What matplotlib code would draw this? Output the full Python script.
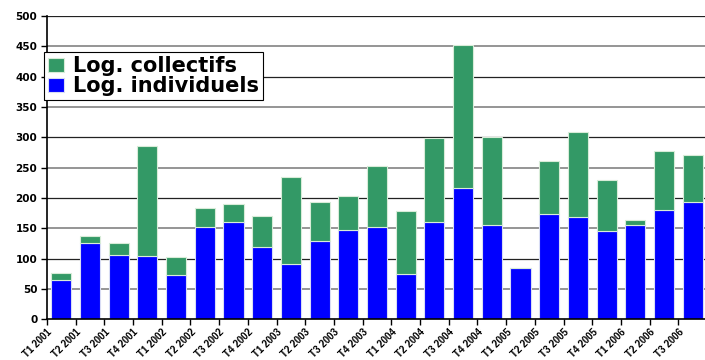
import numpy as np
import matplotlib.pyplot as plt

# Trimestres
trimestres = ["T1 2001", "T2 2001", "T3 2001", "T4 2001",
              "T1 2002", "T2 2002", "T3 2002", "T4 2002",
              "T1 2003", "T2 2003", "T3 2003", "T4 2003",
              "T1 2004", "T2 2004", "T3 2004", "T4 2004",
              "T1 2005", "T2 2005", "T3 2005", "T4 2005",
              "T1 2006", "T2 2006", "T3 2006"]

# Logements individuels et collectifs
individuels = [65, 125, 106, 105, 73, 152, 160, 119, 91, 129, 148, 152,
               74, 160, 216, 155, 84, 173, 168, 145, 155, 180, 193]
collectifs = [12, 12, 19, 181, 30, 32, 30, 52, 143, 64, 55, 101,
              105, 139, 237, 145, 0, 88, 141, 85, 9, 97, 78]

vert = "#339966"
bleu = "#0000FF"

fig = plt.figure(figsize=(7.05, 3.6), dpi=100)
ax = fig.add_axes([47/705, 40.7/360, 1 - 47/705, 303.3/360])

x = np.arange(len(trimestres))
ax.bar(x, individuels, width=0.7, color=bleu, edgecolor="#d8dcf4",
       linewidth=0.8, label="Log. individuels", zorder=3)
ax.bar(x, collectifs, width=0.7, bottom=individuels, color=vert,
       edgecolor="#d8ecd8", linewidth=0.8, label="Log. collectifs", zorder=3)

# Lignes horizontales : noires aux centaines, grises entre
for v in range(50, 501, 50):
    if v % 100 == 0:
        ax.axhline(v, color="#222222", lw=0.9, zorder=1)
    else:
        ax.axhline(v, color="#8c8c8c", lw=1.3, zorder=1)

ax.set_ylim(0, 500)
ax.set_xlim(-0.5, 22.43)
ax.set_yticks(range(0, 501, 50))
ax.set_xticks(x - 0.5)
ax.set_xticklabels(trimestres, rotation=45, ha="right", va="top",
                   rotation_mode="anchor", family="Liberation Sans",
                   fontweight="bold", fontsize=7)
for lab in ax.get_yticklabels():
    lab.set_fontweight("bold")
    lab.set_fontsize(7.5)
ax.tick_params(axis="both", direction="out", length=4, width=1, color="black")
ax.tick_params(axis="x", pad=1.5)
ax.tick_params(axis="y", pad=3)

ax.spines["right"].set_visible(False)
ax.spines["top"].set_visible(False)
for s in ["left", "bottom"]:
    ax.spines[s].set_linewidth(1.2)
    ax.spines[s].set_zorder(4)

h, l = ax.get_legend_handles_labels()
leg = ax.legend(h[::-1], l[::-1], loc="upper left",
                bbox_to_anchor=(-0.005, 0.881), borderaxespad=0,
                prop={"weight": "bold", "size": 15}, frameon=True,
                fancybox=False, edgecolor="black", framealpha=1,
                handlelength=0.75, handleheight=0.6, handletextpad=0.45,
                labelspacing=0.0, borderpad=0.2)
leg.get_frame().set_linewidth(0.8)
leg.set_zorder(5)

fig.savefig("out.png", dpi=100)
